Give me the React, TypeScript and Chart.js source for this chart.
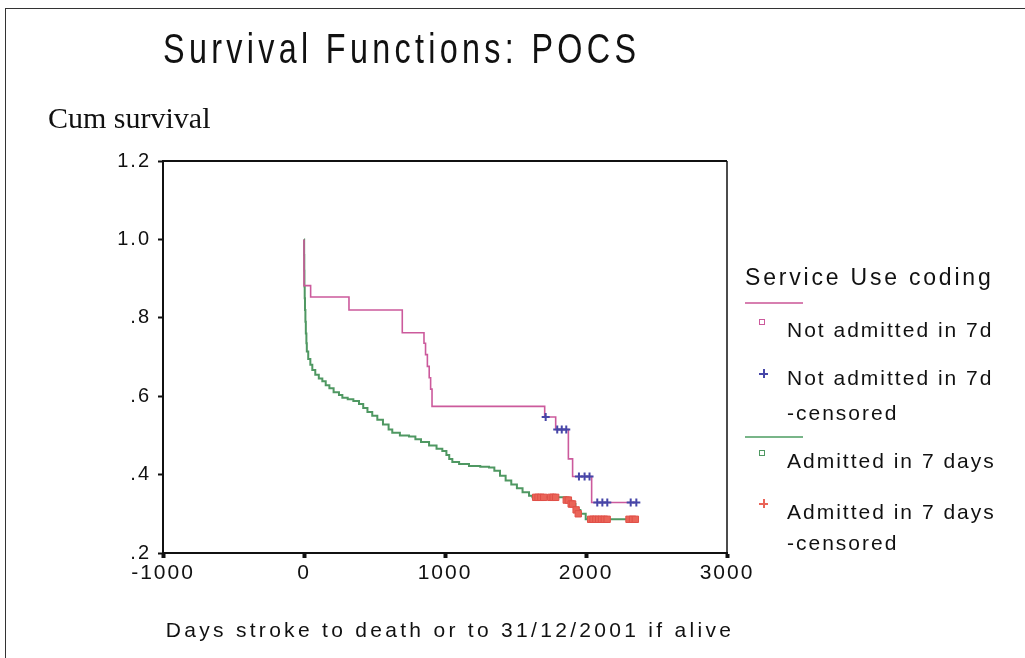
import React, { useEffect, useRef } from 'react';
import { Chart, registerables } from 'chart.js';

Chart.register(...registerables);

// ---- Data ----
const notAdmittedDays = [0, 0, 47, 319, 697, 851, 862, 875, 888, 898, 908, 1707, 1785, 1875, 1905, 2040, 2357];
const notAdmittedSurv = [1.0, 0.882, 0.853, 0.82, 0.762, 0.735, 0.706, 0.676, 0.647, 0.618, 0.574, 0.547, 0.515, 0.44, 0.395, 0.329, 0.329];

const notAdmittedCensDays = [1714, 1796, 1828, 1860, 1950, 1990, 2025, 2080, 2116, 2151, 2317, 2357];
const notAdmittedCensSurv = [0.547, 0.515, 0.515, 0.515, 0.395, 0.395, 0.395, 0.329, 0.329, 0.329, 0.329, 0.329];

const admittedDays = [0, 1, 2, 3, 5, 7, 10, 13, 17, 20, 30, 45, 59, 80, 105, 130, 154, 180, 210, 248, 272, 310, 350, 390, 420, 450, 484, 520, 560, 600, 626, 680, 745, 790, 830, 887, 940, 981, 1010, 1030, 1052, 1100, 1170, 1250, 1312, 1350, 1390, 1430, 1470, 1510, 1550, 1596, 1620, 1860, 1895, 1925, 1960, 1998, 2352];
const admittedSurv = [1.0, 0.96, 0.92, 0.88, 0.85, 0.82, 0.79, 0.76, 0.735, 0.714, 0.695, 0.68, 0.667, 0.655, 0.645, 0.638, 0.628, 0.62, 0.61, 0.603, 0.596, 0.592, 0.588, 0.58, 0.57, 0.56, 0.55, 0.54, 0.528, 0.515, 0.507, 0.5, 0.497, 0.49, 0.483, 0.474, 0.466, 0.46, 0.45, 0.44, 0.432, 0.427, 0.422, 0.42, 0.418, 0.41, 0.397, 0.385, 0.375, 0.365, 0.355, 0.346, 0.342, 0.335, 0.325, 0.31, 0.3, 0.286, 0.286];

const admittedCensDays = [1643, 1660, 1680, 1700, 1750, 1767, 1785, 1860, 1875, 1895, 1905, 1930, 1945, 2033, 2050, 2070, 2090, 2110, 2130, 2150, 2305, 2330, 2350];
const admittedCensSurv = [0.342, 0.342, 0.342, 0.342, 0.342, 0.342, 0.342, 0.335, 0.335, 0.325, 0.325, 0.31, 0.3, 0.286, 0.286, 0.286, 0.286, 0.286, 0.286, 0.286, 0.286, 0.286, 0.286];

const xTickValues = [-1000, 0, 1000, 2000, 3000];
const xTickLabels = ['-1000', '0', '1000', '2000', '3000'];
const yTickValues = [0.2, 0.4, 0.6, 0.8, 1.0, 1.2];
const yTickLabels = ['.2', '.4', '.6', '.8', '1.0', '1.2'];

const seriesNames = ['Not admitted in 7d', 'Not admitted in 7d -censored', 'Admitted in 7 days', 'Admitted in 7 days -censored'];

const PINK = '#cc5a9c';
const BLUE = '#4646a8';
const GREEN = '#4f9862';
const RED = '#ea6458';

const toPoints = (xs: number[], ys: number[]) => xs.map((x, i) => ({ x, y: ys[i] }));

const spacingPlugin = {
  id: 'spacing',
  beforeDraw(chart: any) {
    chart.ctx.letterSpacing = '2px';
  },
  afterDraw(chart: any) {
    const { ctx, chartArea } = chart;
    ctx.save();
    ctx.letterSpacing = '0px';
    ctx.strokeStyle = '#111';
    ctx.lineWidth = 2;
    ctx.beginPath();
    ctx.moveTo(chartArea.left, chartArea.top);
    ctx.lineTo(chartArea.right, chartArea.top);
    ctx.stroke();
    ctx.lineWidth = 1.5;
    ctx.beginPath();
    ctx.moveTo(chartArea.right, chartArea.top);
    ctx.lineTo(chartArea.right, chartArea.bottom);
    ctx.stroke();
    ctx.restore();
    ctx.letterSpacing = '0px';
  },
};

const Plus = ({ x, y, color }: { x: number; y: number; color: string }) => (
  <div style={{ position: 'absolute', left: x - 4, top: y - 4, width: 9, height: 9 }}>
    <div style={{ position: 'absolute', left: 0, top: 3.5, width: 9, height: 2, background: color }} />
    <div style={{ position: 'absolute', left: 3.5, top: 0, width: 2, height: 9, background: color }} />
  </div>
);

const Square = ({ x, y, color }: { x: number; y: number; color: string }) => (
  <div
    style={{
      position: 'absolute',
      left: x - 3,
      top: y - 3,
      width: 6,
      height: 6,
      border: `1.5px solid ${color}`,
      boxSizing: 'border-box',
    }}
  />
);

const sans = "'Liberation Sans', Arial, Helvetica, sans-serif";
const serif = "'Liberation Serif', 'Times New Roman', serif";

const legendText = (text: string, top: number) => (
  <div
    style={{
      position: 'absolute',
      left: 787,
      top,
      fontFamily: sans,
      fontSize: 21,
      lineHeight: '21px',
      letterSpacing: '2px',
      color: '#111',
      whiteSpace: 'nowrap',
    }}
  >
    {text}
  </div>
);

export default function App() {
  const canvasRef = useRef<HTMLCanvasElement | null>(null);

  useEffect(() => {
    if (!canvasRef.current) return;
    const chart = new Chart(canvasRef.current, {
      type: 'scatter',
      data: {
        datasets: [
          {
            label: seriesNames[1],
            data: toPoints(notAdmittedCensDays, notAdmittedCensSurv),
            showLine: false,
            pointStyle: 'cross',
            pointRadius: 4,
            borderWidth: 2,
            borderColor: BLUE,
            backgroundColor: BLUE,
            order: 0,
          },
          {
            label: seriesNames[3],
            data: toPoints(admittedCensDays, admittedCensSurv),
            showLine: false,
            pointStyle: 'rect',
            pointRadius: 4.5,
            borderWidth: 1,
            borderColor: '#e05048',
            backgroundColor: RED,
            order: 0,
          },
          {
            label: seriesNames[0],
            data: toPoints(notAdmittedDays, notAdmittedSurv),
            showLine: true,
            stepped: 'before',
            pointRadius: 0,
            borderWidth: 1.6,
            borderColor: PINK,
            backgroundColor: PINK,
            order: 1,
          },
          {
            label: seriesNames[2],
            data: toPoints(admittedDays, admittedSurv),
            showLine: true,
            stepped: 'before',
            pointRadius: 0,
            borderWidth: 2,
            borderColor: GREEN,
            backgroundColor: GREEN,
            order: 2,
          },
        ],
      },
      options: {
        animation: false,
        responsive: false,
        maintainAspectRatio: false,
        layout: { padding: { left: 83, right: 298, top: 161, bottom: 65 } },
        plugins: {
          legend: { display: false },
          tooltip: { enabled: false },
          title: { display: false },
        },
        scales: {
          x: {
            type: 'linear',
            min: -1000,
            max: 3000,
            afterFit: (s: any) => {
              s.height = 40;
            },
            afterBuildTicks: (s: any) => {
              s.ticks = xTickValues.map((v) => ({ value: v }));
            },
            ticks: {
              autoSkip: false,
              maxRotation: 0,
              padding: 3,
              color: '#111',
              font: { family: sans, size: 21 },
              callback: (_v: any, i: number) => xTickLabels[i],
            },
            grid: {
              display: true,
              drawOnChartArea: false,
              drawTicks: true,
              tickLength: 5,
              tickWidth: 4,
              tickColor: '#111',
            },
            border: { display: true, color: '#111', width: 2 },
          },
          y: {
            type: 'linear',
            min: 0.2,
            max: 1.2,
            afterFit: (s: any) => {
              s.width = 80;
            },
            afterBuildTicks: (s: any) => {
              s.ticks = yTickValues.map((v) => ({ value: v }));
            },
            ticks: {
              autoSkip: false,
              padding: 7,
              color: '#111',
              font: { family: sans, size: 20 },
              callback: (_v: any, i: number) => yTickLabels[i],
            },
            grid: {
              display: true,
              drawOnChartArea: false,
              drawTicks: true,
              tickLength: 5,
              tickWidth: 2,
              tickColor: '#111',
            },
            border: { display: true, color: '#111', width: 2 },
          },
        },
      },
      plugins: [spacingPlugin],
    } as any);
    return () => chart.destroy();
  }, []);

  return (
    <div
      style={{
        position: 'fixed',
        left: 0,
        top: 0,
        width: 1025,
        height: 658,
        background: '#fff',
        overflow: 'hidden',
      }}
    >
      <canvas ref={canvasRef} width={1025} height={658} style={{ position: 'absolute', left: 0, top: 0, display: 'block' }} />
      {/* page frame */}
      <div
        style={{
          position: 'absolute',
          left: 5,
          top: 8,
          width: 1030,
          height: 660,
          borderTop: '1.5px solid #333',
          borderLeft: '1.5px solid #333',
          pointerEvents: 'none',
        }}
      />
      {/* title */}
      <div
        style={{
          position: 'absolute',
          left: 163,
          top: 27.7,
          fontFamily: sans,
          fontSize: 42,
          lineHeight: '42px',
          letterSpacing: '5.6px',
          color: '#111',
          whiteSpace: 'nowrap',
          transform: 'scaleX(0.77)',
          transformOrigin: 'left top',
        }}
      >
        Survival Functions: POCS
      </div>
      {/* y axis title */}
      <div
        style={{
          position: 'absolute',
          left: 48,
          top: 103,
          fontFamily: serif,
          fontSize: 30,
          lineHeight: '30px',
          color: '#111',
          whiteSpace: 'nowrap',
        }}
      >
        Cum survival
      </div>
      {/* x axis title */}
      <div
        style={{
          position: 'absolute',
          left: 0,
          width: 900,
          top: 619,
          textAlign: 'center',
          fontFamily: sans,
          fontSize: 21,
          lineHeight: '21px',
          letterSpacing: '3.3px',
          color: '#111',
          whiteSpace: 'nowrap',
        }}
      >
        Days stroke to death or to 31/12/2001 if alive
      </div>
      {/* legend */}
      <div
        style={{
          position: 'absolute',
          left: 745,
          top: 265.5,
          fontFamily: sans,
          fontSize: 23,
          lineHeight: '23px',
          letterSpacing: '2.8px',
          color: '#111',
          whiteSpace: 'nowrap',
        }}
      >
        Service Use coding
      </div>
      <div style={{ position: 'absolute', left: 745, top: 302, width: 58, height: 1.5, background: '#d77fb0' }} />
      <Square x={762} y={322} color={PINK} />
      {legendText('Not admitted in 7d', 319)}
      <Plus x={763} y={373} color={BLUE} />
      {legendText('Not admitted in 7d', 367)}
      {legendText('-censored', 401.5)}
      <div style={{ position: 'absolute', left: 745, top: 436, width: 58, height: 1.5, background: '#78b588' }} />
      <Square x={762} y={453} color={GREEN} />
      {legendText('Admitted in 7 days', 450)}
      <Plus x={763} y={503} color={RED} />
      {legendText('Admitted in 7 days', 500.5)}
      {legendText('-censored', 532)}
    </div>
  );
}
